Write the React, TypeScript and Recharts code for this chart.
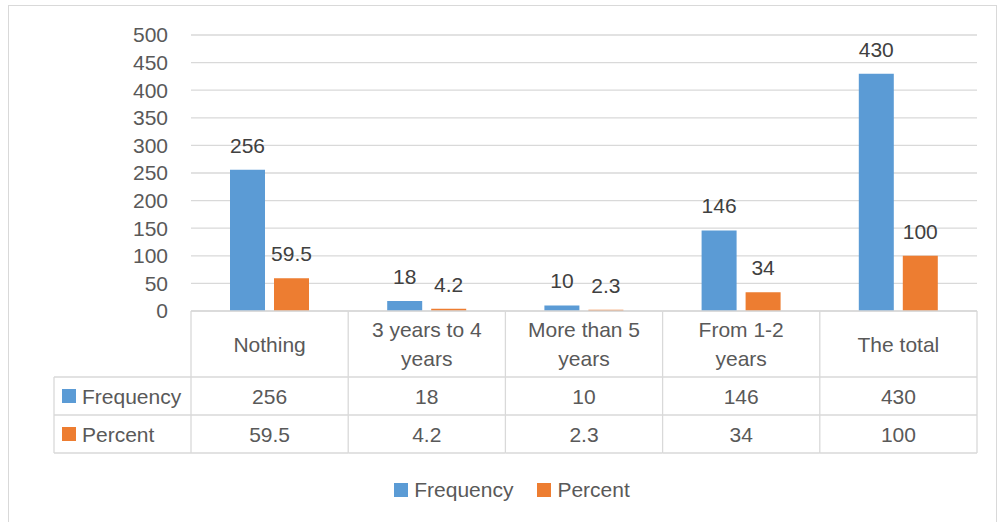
import React from 'react';
import { BarChart, Bar, XAxis, YAxis, CartesianGrid, LabelList, Legend } from 'recharts';

const categories = ['Nothing', '3 years to 4 years', 'More than 5 years', 'From 1-2 years', 'The total'];
const frequency = [256, 18, 10, 146, 430];
const percent = [59.5, 4.2, 2.3, 34, 100];
const yTicks = [0, 50, 100, 150, 200, 250, 300, 350, 400, 450, 500];
const seriesNames = ['Frequency', 'Percent'];
const colors = ['#5B9BD5', '#ED7D31'];

const data = categories.map((c, i) => ({ category: c, frequency: frequency[i], percent: percent[i] }));

const FONT = "'Liberation Sans', Arial, sans-serif";
const FS = 21;
const TEXT = '#595959';
const LINE = '#D9D9D9';

const W = 987;
const H = 528;
const margin = { top: 29, right: 19, bottom: 7, left: 0 };
const Y_AXIS_W = 182;
const X_AXIS_H = 142;
const plotW = W - margin.left - margin.right - Y_AXIS_W;
const cellW = plotW / categories.length;
const HEAD_W = 137;
const ROW1 = 66;
const ROW2 = 104;
const ROW3 = 142;
const LINE_H = 29;

let ctx: CanvasRenderingContext2D | null = null;
function measure(s: string): number {
  if (!ctx) {
    const c = document.createElement('canvas');
    ctx = c.getContext('2d');
  }
  if (!ctx) return s.length * FS * 0.5;
  ctx.font = `${FS}px 'Liberation Sans', Arial, sans-serif`;
  return ctx.measureText(s).width;
}

function wrap(s: string, maxW: number): string[] {
  const words = s.split(' ');
  const lines: string[] = [];
  let cur = '';
  for (const w of words) {
    const t = cur ? cur + ' ' + w : w;
    if (cur && measure(t) > maxW) {
      lines.push(cur);
      cur = w;
    } else {
      cur = t;
    }
  }
  if (cur) lines.push(cur);
  return lines;
}

const TableTick = (props: any) => {
  const { x, y, payload, index } = props;
  const left = x - cellW / 2;
  const right = x + cellW / 2;
  const r1 = y + ROW1;
  const r2 = y + ROW2;
  const r3 = y + ROW3;
  const txt = { fontFamily: FONT, fontSize: FS, fill: TEXT } as any;
  const lines = wrap(String(payload.value), cellW - 18);
  const cy = y + ROW1 / 2;
  return (
    <g>
      <line x1={left} x2={right} y1={y} y2={y} stroke={LINE} strokeWidth={1.3} />
      <line x1={left} x2={right} y1={r1} y2={r1} stroke={LINE} strokeWidth={1.3} />
      <line x1={left} x2={right} y1={r2} y2={r2} stroke={LINE} strokeWidth={1.3} />
      <line x1={left} x2={right} y1={r3} y2={r3} stroke={LINE} strokeWidth={1.3} />
      <line x1={right} x2={right} y1={y} y2={r3} stroke={LINE} strokeWidth={1.3} />
      {index === 0 && <line x1={left} x2={left} y1={y} y2={r3} stroke={LINE} strokeWidth={1.3} />}
      {lines.map((ln, k) => (
        <text
          key={k}
          x={x}
          y={cy + (k - (lines.length - 1) / 2) * LINE_H}
          textAnchor="middle"
          dominantBaseline="central"
          {...txt}
        >
          {ln}
        </text>
      ))}
      <text x={x} y={(r1 + r2) / 2} textAnchor="middle" dominantBaseline="central" {...txt}>
        {frequency[index]}
      </text>
      <text x={x} y={(r2 + r3) / 2} textAnchor="middle" dominantBaseline="central" {...txt}>
        {percent[index]}
      </text>
      {index === 0 && (
        <g>
          <line x1={left - HEAD_W} x2={left} y1={r1} y2={r1} stroke={LINE} strokeWidth={1.3} />
          <line x1={left - HEAD_W} x2={left} y1={r2} y2={r2} stroke={LINE} strokeWidth={1.3} />
          <line x1={left - HEAD_W} x2={left} y1={r3} y2={r3} stroke={LINE} strokeWidth={1.3} />
          <line x1={left - HEAD_W} x2={left - HEAD_W} y1={r1} y2={r3} stroke={LINE} strokeWidth={1.3} />
          <rect x={left - 129} y={(r1 + r2) / 2 - 7} width={14} height={14} fill={colors[0]} />
          <text x={left - 109} y={(r1 + r2) / 2} dominantBaseline="central" {...txt}>{seriesNames[0]}</text>
          <rect x={left - 129} y={(r2 + r3) / 2 - 7} width={14} height={14} fill={colors[1]} />
          <text x={left - 109} y={(r2 + r3) / 2} dominantBaseline="central" {...txt}>{seriesNames[1]}</text>
        </g>
      )}
    </g>
  );
};

const LegendContent = () => (
  <div
    style={{
      height: 74,
      display: 'flex',
      alignItems: 'center',
      justifyContent: 'center',
      paddingLeft: 38,
      fontFamily: FONT,
      fontSize: FS,
      color: TEXT,
    }}
  >
    {seriesNames.map((n, i) => (
      <div key={n} style={{ display: 'flex', alignItems: 'center', marginRight: i === 0 ? 24 : 0 }}>
        <div style={{ width: 14, height: 14, background: colors[i], marginRight: 6 }} />
        <span>{n}</span>
      </div>
    ))}
  </div>
);

export default function App() {
  return (
    <div
      style={{
        position: 'absolute',
        left: 8,
        top: 5,
        width: W + 2,
        height: H + 2,
        border: `1px solid ${LINE}`,
        boxSizing: 'border-box',
        background: '#fff',
      }}
    >
      <BarChart width={W} height={H} data={data} margin={margin} barCategoryGap={39} barGap={9}>
        <CartesianGrid vertical={false} stroke={LINE} strokeWidth={1.3} />
        <YAxis
          width={Y_AXIS_W}
          domain={[0, 500]}
          ticks={yTicks}
          interval={0}
          axisLine={false}
          tickLine={false}
          tickSize={0}
          tickMargin={23}
          tick={{ fontFamily: FONT, fontSize: FS, fill: TEXT }}
        />
        <XAxis
          dataKey="category"
          height={X_AXIS_H}
          interval={0}
          axisLine={false}
          tickLine={false}
          tickSize={0}
          tickMargin={0}
          tick={<TableTick />}
        />
        <Legend verticalAlign="bottom" content={<LegendContent />} />
        <Bar dataKey="frequency" name={seriesNames[0]} fill={colors[0]} isAnimationActive={false}>
          <LabelList dataKey="frequency" position="top" offset={17} fill="#404040" fontFamily={FONT} fontSize={FS} />
        </Bar>
        <Bar dataKey="percent" name={seriesNames[1]} fill={colors[1]} isAnimationActive={false}>
          <LabelList dataKey="percent" position="top" offset={17} fill="#404040" fontFamily={FONT} fontSize={FS} />
        </Bar>
      </BarChart>
    </div>
  );
}
